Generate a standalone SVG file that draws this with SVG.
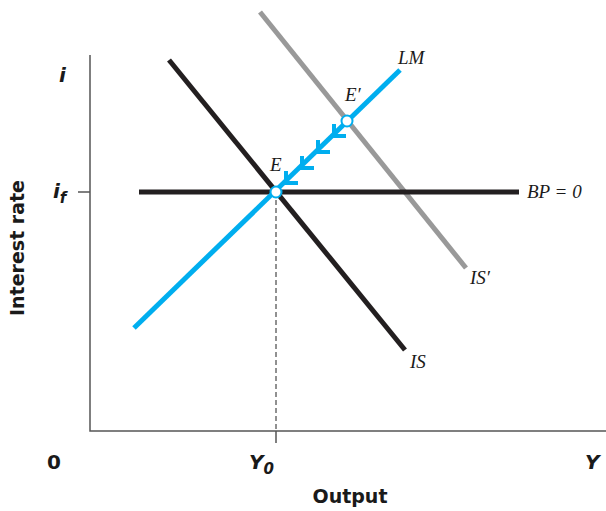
<svg xmlns="http://www.w3.org/2000/svg" width="606" height="511" viewBox="0 0 606 511">
<style>
.ax{stroke:#555;stroke-width:1.5;fill:none}
.lbl{font-family:"DejaVu Sans","Liberation Sans",sans-serif;font-weight:bold;fill:#1a1a1a}
.it{font-family:"Liberation Serif",serif;font-style:italic;font-size:19px;fill:#1a1a1a}
.pt{fill:#fff;stroke:#00aeef;stroke-width:2}
.ah{fill:none;stroke:#00aeef;stroke-width:4;stroke-linejoin:miter}
</style>
<rect width="606" height="511" fill="#fff"/>
<g id="axes">
<path class="ax" d="M90,55 V431 H606"/>
<path class="ax" d="M78,192 H90"/>
<path class="ax" d="M276,431 V443"/>
</g>
<g id="connectors">
<line x1="276" y1="192" x2="276" y2="431" stroke="#222" stroke-width="1" stroke-dasharray="5,3"/>
<line id="IS" x1="169" y1="60" x2="405" y2="350" stroke="#231f20" stroke-width="5"/>
<line id="ISp" x1="260" y1="12" x2="466" y2="268" stroke="#999" stroke-width="5"/>
<line id="BP" x1="139" y1="192" x2="519" y2="192" stroke="#231f20" stroke-width="5"/>
<line id="LM" x1="134" y1="328" x2="400" y2="70" stroke="#00aeef" stroke-width="5"/>
<g id="arrows">
<path class="ah" d="M334,124 V136 H346"/>
<path class="ah" d="M318,140 V152 H330"/>
<path class="ah" d="M302,156 V168 H314"/>
<path class="ah" d="M286,171 V183 H298"/>
</g>
</g>
<g id="E"><circle class="pt" cx="276" cy="192" r="5.5"/><text class="it" x="270" y="171">E</text></g>
<g id="Ep"><circle class="pt" cx="347" cy="121" r="5.5"/><text class="it" x="345" y="101">E′</text></g>
<g id="labels">
<text class="it" x="398" y="64">LM</text>
<text class="it" x="470" y="284">IS′</text>
<text class="it" x="410" y="368">IS</text>
<text class="it" x="527" y="198">BP = 0</text>
<text class="lbl" font-size="20" font-style="italic" x="59" y="82">i</text>
<text class="lbl" font-size="20" font-style="italic" x="53" y="198">i<tspan font-size="15" dy="5">f</tspan></text>
<text class="lbl" font-size="20" x="47" y="469">0</text>
<text class="lbl" font-size="20" font-style="italic" x="249" y="469">Y<tspan font-size="15" dy="5">0</tspan></text>
<text class="lbl" font-size="20" font-style="italic" x="585" y="469">Y</text>
<text class="lbl" font-size="19" x="350" y="503" text-anchor="middle">Output</text>
<text class="lbl" font-size="19" text-anchor="middle" transform="translate(24,248) rotate(-90)">Interest rate</text>
</g>
</svg>
